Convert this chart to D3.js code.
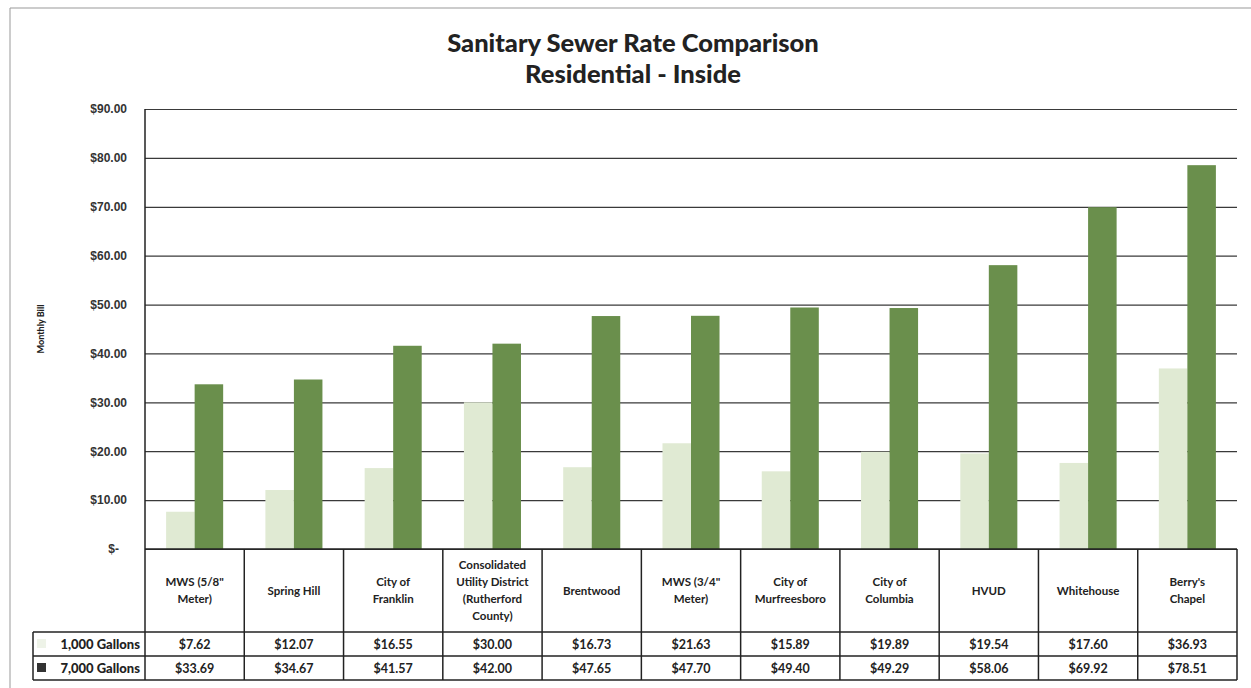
<!DOCTYPE html>
<html>
<head>
<meta charset="utf-8">
<script src="https://cdnjs.cloudflare.com/ajax/libs/d3/7.8.5/d3.min.js"></script>
<style>
  body { margin: 0; background: #fff; }
  svg { font-family: Lato, "Open Sans", sans-serif; }
  .title { font-size: 25.5px; font-weight: 900; fill: #222; }
  .cell { font-size: 12px; font-weight: 700; fill: #222; }
  .y.axis text { font-size: 12px; font-weight: 700; fill: #333; }
</style>
</head>
<body>
<script>
// values
var categories = [
  ["MWS (5/8\"", "Meter)"],
  ["Spring Hill"],
  ["City of", "Franklin"],
  ["Consolidated", "Utility District", "(Rutherford", "County)"],
  ["Brentwood"],
  ["MWS (3/4\"", "Meter)"],
  ["City of", "Murfreesboro"],
  ["City of", "Columbia"],
  ["HVUD"],
  ["Whitehouse"],
  ["Berry's", "Chapel"]
];
var seriesNames = ["1,000 Gallons", "7,000 Gallons"];
var gal1000 = [7.62, 12.07, 16.55, 30.00, 16.73, 21.63, 15.89, 19.89, 19.54, 17.60, 36.93];
var gal7000 = [33.69, 34.67, 41.57, 42.00, 47.65, 47.70, 49.40, 49.29, 58.06, 69.92, 78.51];
var yTicks = [0, 10, 20, 30, 40, 50, 60, 70, 80, 90];

var width = 1251, height = 688;
var margin = {left: 145, right: 14, top: 109, bottom: 139};
var plotW = width - margin.left - margin.right;
var plotH = height - margin.top - margin.bottom;

var colors = ["#e0ead3", "#6a8f4c"];
var rows = [gal1000, gal7000];

var svg = d3.select("body").append("svg")
  .attr("width", width).attr("height", height);

// scanned page frame
svg.append("path")
  .attr("d", "M10,688 L10,8 L1251,8")
  .attr("fill", "none").attr("stroke", "#999").attr("stroke-width", 1);

svg.append("text").attr("class", "title")
  .attr("x", 633).attr("y", 52).attr("text-anchor", "middle")
  .text("Sanitary Sewer Rate Comparison");
svg.append("text").attr("class", "title")
  .attr("x", 633).attr("y", 83).attr("text-anchor", "middle")
  .text("Residential - Inside");

var chart = svg.append("g")
  .attr("transform", "translate(" + margin.left + "," + margin.top + ")");

var idx = d3.range(categories.length);
var x = d3.scaleBand().domain(idx).range([0, plotW]).paddingInner(0).paddingOuter(0);
var x1 = d3.scaleBand().domain([0, 1]).range([0, x.bandwidth()]).paddingInner(0).paddingOuter(0.74);
var y = d3.scaleLinear().domain([0, 90]).range([plotH, 0]);

var yAxis = d3.axisLeft(y).tickValues(yTicks).tickSize(-plotW).tickPadding(18)
  .tickFormat(function(d){ return d === 0 ? "$-" : "$" + d.toFixed(2); });

chart.append("g").attr("class", "y axis").call(yAxis)
  .call(function(g){
    g.select(".domain").remove();
    g.selectAll(".tick line").attr("stroke", "#3a3a3a").attr("stroke-width", 1.2);
    g.selectAll(".tick text").filter(function(d){ return d === 0; }).attr("dx", -8);
  });

// bars
var groups = chart.selectAll(".grp").data(idx).enter().append("g")
  .attr("class", "grp")
  .attr("transform", function(i){ return "translate(" + x(i) + ",0)"; });

groups.selectAll("rect").data(function(i){ return [0, 1].map(function(s){ return {s: s, v: rows[s][i]}; }); })
  .enter().append("rect")
  .attr("x", function(d){ return x1(d.s); })
  .attr("width", x1.bandwidth())
  .attr("y", function(d){ return y(d.v); })
  .attr("height", function(d){ return plotH - y(d.v); })
  .attr("fill", function(d){ return colors[d.s]; });

// y axis line running down through the table
chart.append("line")
  .attr("x1", 0).attr("x2", 0).attr("y1", 0).attr("y2", plotH + 131)
  .attr("stroke", "#222").attr("stroke-width", 1.5);

svg.append("text").attr("class", "cell")
  .attr("transform", "translate(44," + (margin.top + plotH / 2) + ") rotate(-90)")
  .attr("text-anchor", "middle").style("font-size", "9px").style("font-weight", 900)
  .text("Monthly Bill");

// data table
var tbl = chart.append("g").attr("transform", "translate(0," + plotH + ")");
var row1 = 83, rowH = 24;
var line = function(x1p, y1p, x2p, y2p){
  tbl.append("line").attr("x1", x1p).attr("y1", y1p).attr("x2", x2p).attr("y2", y2p)
    .attr("stroke", "#222").attr("stroke-width", 1.5);
};
line(0, 0, plotW, 0);
line(-112, row1, plotW, row1);
line(-112, row1 + rowH, plotW, row1 + rowH);
line(-112, row1 + 2 * rowH, plotW, row1 + 2 * rowH);
line(-112, row1, -112, row1 + 2 * rowH);
idx.forEach(function(i){ line(x(i) + x.bandwidth(), 0, x(i) + x.bandwidth(), row1 + 2 * rowH); });

idx.forEach(function(i){
  var lines = categories[i];
  var t = tbl.append("text").attr("class", "cell")
    .attr("x", x(i) + x.bandwidth() / 2).attr("text-anchor", "middle")
    .style("font-size", "11.5px");
  lines.forEach(function(l, k){
    t.append("tspan").attr("x", x(i) + x.bandwidth() / 2)
      .attr("y", row1 / 2 + 4 + (k - (lines.length - 1) / 2) * 17)
      .text(l);
  });
  rows.forEach(function(r, s){
    tbl.append("text").attr("class", "cell")
      .attr("x", x(i) + x.bandwidth() / 2).attr("y", row1 + s * rowH + 17)
      .attr("text-anchor", "middle").style("font-size", "12.5px")
      .text("$" + r[i].toFixed(2));
  });
});

seriesNames.forEach(function(n, s){
  tbl.append("rect").attr("x", -108).attr("y", row1 + s * rowH + 7)
    .attr("width", 9).attr("height", 9).attr("fill", s === 0 ? "#eef3e8" : "#333");
  tbl.append("text").attr("class", "cell")
    .attr("x", -5).attr("y", row1 + s * rowH + 17).attr("text-anchor", "end")
    .style("font-size", "13px").style("font-weight", 900)
    .text(n);
});
</script>
</body>
</html>
